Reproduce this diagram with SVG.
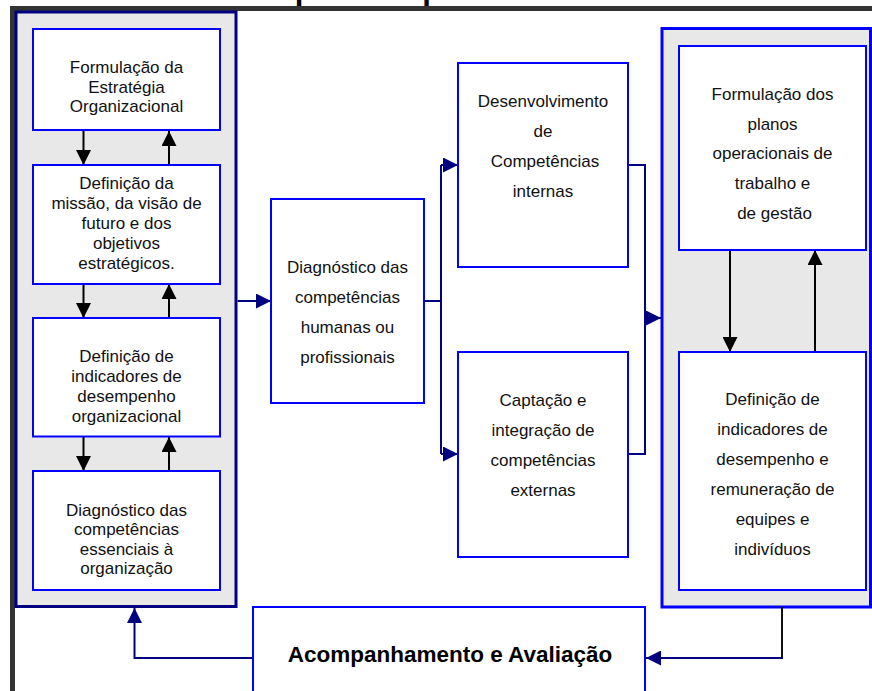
<svg xmlns="http://www.w3.org/2000/svg" width="872" height="691" viewBox="0 0 872 691">
<defs>
<marker id="ahK" markerUnits="userSpaceOnUse" markerWidth="15" markerHeight="15" viewBox="0 0 15 15" refX="15" refY="7.5" orient="auto"><path d="M0,0 L15,7.5 L0,15 z" fill="#000"/></marker>
<marker id="ahN" markerUnits="userSpaceOnUse" markerWidth="15" markerHeight="15" viewBox="0 0 15 15" refX="15" refY="7.5" orient="auto"><path d="M0,0 L15,7.5 L0,15 z" fill="#000080"/></marker>
</defs>
<style>
.t{font-family:"Liberation Sans",Arial,sans-serif;font-size:17px;fill:#111;text-anchor:middle}
.b{fill:#fff;stroke:#0000ff;stroke-width:2}
.k{fill:none;stroke:#000;stroke-width:2;marker-end:url(#ahK)}
.n{fill:none;stroke:#000080;stroke-width:2}
.na{fill:none;stroke:#000080;stroke-width:2;marker-end:url(#ahN)}
</style>
<rect width="872" height="691" fill="#fff"/>
<text x="181" y="-1.5" font-family="Liberation Sans,Arial,sans-serif" font-size="31" font-weight="bold" fill="#000">Gestão por Competências</text>
<rect x="12.5" y="8.5" width="900" height="720" fill="none" stroke="#333" stroke-width="5"/>

<g id="panel-left">
<rect x="16" y="12" width="220" height="594.5" fill="#e8e8e8" stroke="#000080" stroke-width="3"/>
</g>
<g id="panel-right">
<rect x="662" y="28.5" width="208.5" height="578.5" fill="#e8e8e8" stroke="#0000ff" stroke-width="3"/>
</g>

<g id="connectors">
<line class="k" x1="83.5" y1="131" x2="83.5" y2="165"/>
<line class="k" x1="169" y1="165" x2="169" y2="131"/>
<line class="k" x1="83.5" y1="284" x2="83.5" y2="318"/>
<line class="k" x1="169" y1="318" x2="169" y2="284"/>
<line class="k" x1="83.5" y1="437" x2="83.5" y2="471"/>
<line class="k" x1="169" y1="471" x2="169" y2="437"/>
<line class="k" x1="730" y1="250" x2="730" y2="352"/>
<line class="k" x1="815" y1="352" x2="815" y2="250"/>
<line class="na" x1="237.5" y1="301" x2="271" y2="301"/>
<path class="n" d="M424,301 H441 M441,454 V165"/>
<path class="na" d="M441,165 H458"/>
<path class="na" d="M441,454 H458"/>
<path class="n" d="M628,165 H645 V454 H628"/>
<path class="na" d="M645,318 H661"/>
<path fill="none" stroke="#111" stroke-width="2" d="M782,607 V658"/>
<path class="na" d="M783,658 H646"/>
<path class="na" d="M253,658 H134.5 V608"/>
</g>

<g id="n-formulacao-estrategia">
<rect class="b" x="33" y="29" width="187" height="101"/>
<text class="t" x="126.5" y="73">Formulação da</text>
<text class="t" x="126.5" y="92.5">Estratégia</text>
<text class="t" x="126.5" y="112">Organizacional</text>
</g>
<g id="n-definicao-missao">
<rect class="b" x="33" y="165" width="187" height="119"/>
<text class="t" x="126.5" y="189">Definição da</text>
<text class="t" x="126.5" y="209">missão, da visão de</text>
<text class="t" x="126.5" y="228.5">futuro e dos</text>
<text class="t" x="126.5" y="248.5">objetivos</text>
<text class="t" x="126.5" y="268.5">estratégicos.</text>
</g>
<g id="n-indicadores-org">
<rect class="b" x="33" y="318" width="187" height="118.5"/>
<text class="t" x="126.5" y="361.5">Definição de</text>
<text class="t" x="126.5" y="381.5">indicadores de</text>
<text class="t" x="126.5" y="401.5">desempenho</text>
<text class="t" x="126.5" y="421.5">organizacional</text>
</g>
<g id="n-competencias-essenciais">
<rect class="b" x="33" y="471" width="187" height="119"/>
<text class="t" x="126.5" y="515.5">Diagnóstico das</text>
<text class="t" x="126.5" y="535">competências</text>
<text class="t" x="126.5" y="554.5">essenciais à</text>
<text class="t" x="126.5" y="574">organização</text>
</g>
<g id="n-competencias-humanas">
<rect class="b" x="271" y="199" width="153" height="204"/>
<text class="t" x="347.5" y="272.5">Diagnóstico das</text>
<text class="t" x="347.5" y="302.5">competências</text>
<text class="t" x="347.5" y="332.5">humanas ou</text>
<text class="t" x="347.5" y="362.5">profissionais</text>
</g>
<g id="n-desenvolvimento">
<rect class="b" x="458" y="63" width="170" height="204"/>
<text class="t" x="543" y="107">Desenvolvimento</text>
<text class="t" x="543" y="137">de</text>
<text class="t" x="545" y="167">Competências</text>
<text class="t" x="543" y="197">internas</text>
</g>
<g id="n-captacao">
<rect class="b" x="458" y="352" width="170" height="205"/>
<text class="t" x="543" y="406">Captação e</text>
<text class="t" x="543" y="436">integração de</text>
<text class="t" x="543" y="466">competências</text>
<text class="t" x="543" y="496">externas</text>
</g>
<g id="n-planos">
<rect class="b" x="679" y="46" width="187" height="204"/>
<text class="t" x="772.5" y="100">Formulação dos</text>
<text class="t" x="772.5" y="129.7">planos</text>
<text class="t" x="772.5" y="159.4">operacionais de</text>
<text class="t" x="772.5" y="189">trabalho e</text>
<text class="t" x="774.5" y="218.8">de gestão</text>
</g>
<g id="n-indicadores-equipes">
<rect class="b" x="679" y="352" width="187" height="238"/>
<text class="t" x="772.5" y="405">Definição de</text>
<text class="t" x="772.5" y="435">indicadores de</text>
<text class="t" x="772.5" y="465">desempenho e</text>
<text class="t" x="772.5" y="495">remuneração de</text>
<text class="t" x="772.5" y="525">equipes e</text>
<text class="t" x="772.5" y="554.5">indivíduos</text>
</g>
<g id="n-acompanhamento">
<rect class="b" x="253" y="607" width="392" height="120"/>
<text x="450" y="662.3" font-family="Liberation Sans,Arial,sans-serif" font-size="22.5" font-weight="bold" fill="#000" text-anchor="middle">Acompanhamento e Avaliação</text>
</g>
</svg>
